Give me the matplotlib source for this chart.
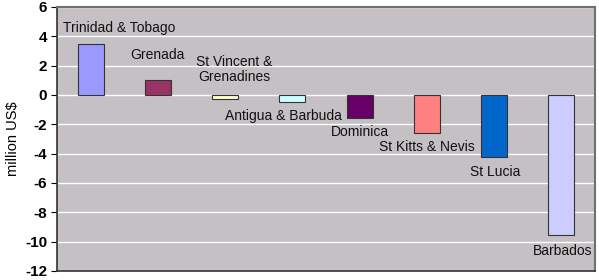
import numpy as np
import matplotlib
matplotlib.use('Agg')
from matplotlib import pyplot as plt

countries = ['Trinidad & Tobago', 'Grenada', 'St Vincent &\nGrenadines', 'Antigua & Barbuda',
             'Dominica', 'St Kitts & Nevis', 'St Lucia', 'Barbados']
values = [3.5, 1.05, -0.25, -0.5, -1.6, -2.6, -4.25, -9.55]
colors = ['#9999FF', '#993366', '#FFFFCC', '#CCFFFF', '#660066', '#FF8080', '#0066CC', '#CCCCFF']
# label offsets from bar end, in pixels
label_offsets = [(29, 16), (0, 25), (9, 29), (-9, -14), (0, -14), (0, -14), (1, -15), (1, -16)]

plt.rcParams['font.family'] = ['Liberation Sans', 'DejaVu Sans']
plt.rcParams['axes.unicode_minus'] = False

fig = plt.figure(figsize=(5.99, 2.8), dpi=100)
ax = fig.add_axes([57/599, 9/280, 538/599, 264/280])
ax.set_facecolor('#C4C0C4')

x = np.arange(len(countries))
ax.bar(x, values, width=0.39, color=colors, edgecolor='#333333', linewidth=0.8, zorder=3)

for i, (name, v) in enumerate(zip(countries, values)):
    dx, dy = label_offsets[i]
    ax.annotate(name, (i, v), xytext=(dx, dy), textcoords='offset pixels',
                ha='center', va='center', fontsize=10, linespacing=1.15, color='#111111', zorder=4)

ax.set_xlim(-0.5, len(countries) - 0.5)
ax.set_ylim(-12, 6)
ax.set_yticks(np.arange(-12, 7, 2))
ax.set_xticks([])
ax.grid(axis='y', color='white', linewidth=1.0, zorder=0)
ax.tick_params(axis='y', length=4, width=0.8, labelsize=11, pad=3)
for lab in ax.get_yticklabels():
    lab.set_fontweight('bold')
ax.set_ylabel('million US$', fontsize=10.5, labelpad=4)

for s in ['top', 'right']:
    ax.spines[s].set_color('#707070')
    ax.spines[s].set_linewidth(1.5)
for s in ['left', 'bottom']:
    ax.spines[s].set_color('#333333')
    ax.spines[s].set_linewidth(1.2)

plt.savefig('out.png', dpi=100)
